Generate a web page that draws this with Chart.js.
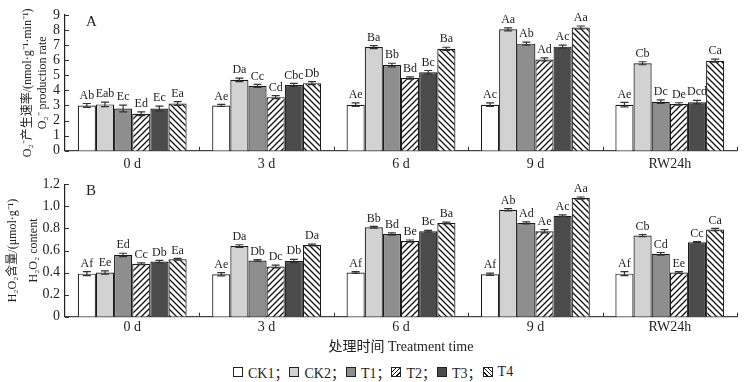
<!DOCTYPE html>
<html>
<head>
<meta charset="utf-8">
<script src="https://cdn.jsdelivr.net/npm/chart.js@4.4.1/dist/chart.umd.min.js"></script>
<style>
  html,body{margin:0;padding:0;background:#fff;}
  #page{position:relative;width:756px;height:382px;overflow:hidden;background:#fff;}
  canvas{position:absolute;left:0;}
  #legend{position:absolute;top:362px;left:233px;display:flex;align-items:center;
    font-family:'Liberation Serif','Noto Sans CJK SC',serif;font-size:14px;color:#222;white-space:nowrap;}
  .item{display:flex;align-items:center;margin-right:1px;}
  .box{width:10px;height:10px;border:1px solid #222;margin-right:5px;box-sizing:border-box;}
</style>
</head>
<body>
<div id="page">
  <canvas id="c1" width="756" height="170" style="top:0px"></canvas>
  <canvas id="c2" width="756" height="190" style="top:170px"></canvas>
  <div id="legend"></div>
</div>
<script>
// ---------------- data ----------------
const categories = ['0 d', '3 d', '6 d', '9 d', 'RW24h'];
const seriesNames = ['CK1', 'CK2', 'T1', 'T2', 'T3', 'T4'];

// Panel A: O2- production rate (nmol g-1 min-1), one row per series
const o2Values = [
  [3.00, 3.00, 3.05, 3.05, 3.05],
  [3.07, 4.70, 6.87, 8.05, 5.80],
  [2.80, 4.30, 5.68, 7.10, 3.25],
  [2.45, 3.55, 4.82, 6.05, 3.10],
  [2.80, 4.36, 5.20, 6.90, 3.22],
  [3.13, 4.48, 6.76, 8.17, 5.97]
];
const o2Errors = [
  [0.13, 0.07, 0.12, 0.12, 0.15],
  [0.15, 0.12, 0.10, 0.10, 0.10],
  [0.22, 0.10, 0.12, 0.10, 0.12],
  [0.12, 0.10, 0.08, 0.10, 0.08],
  [0.16, 0.10, 0.12, 0.10, 0.12],
  [0.12, 0.10, 0.10, 0.10, 0.10]
];
const o2Letters = [
  ['Ab', 'Ae', 'Ae', 'Ac', 'Ae'],
  ['Eab', 'Da', 'Ba', 'Aa', 'Cb'],
  ['Ec', 'Cc', 'Bb', 'Ab', 'Dc'],
  ['Ed', 'Cd', 'Bd', 'Ad', 'De'],
  ['Ec', 'Cbc', 'Bc', 'Ac', 'Dcd'],
  ['Ea', 'Db', 'Ba', 'Aa', 'Ca']
];

// Panel B: H2O2 content (umol g-1)
const h2o2Values = [
  [0.390, 0.385, 0.400, 0.385, 0.390],
  [0.400, 0.640, 0.810, 0.970, 0.735],
  [0.560, 0.510, 0.750, 0.850, 0.570],
  [0.480, 0.455, 0.685, 0.775, 0.400],
  [0.500, 0.505, 0.775, 0.915, 0.675],
  [0.520, 0.650, 0.850, 1.075, 0.790]
];
const h2o2Errors = [
  [0.018, 0.015, 0.008, 0.010, 0.018],
  [0.015, 0.012, 0.008, 0.010, 0.010],
  [0.015, 0.008, 0.010, 0.010, 0.012],
  [0.008, 0.012, 0.010, 0.015, 0.008],
  [0.010, 0.015, 0.008, 0.008, 0.005],
  [0.008, 0.008, 0.008, 0.010, 0.010]
];
const h2o2Letters = [
  ['Af', 'Ae', 'Af', 'Af', 'Af'],
  ['Ee', 'Da', 'Bb', 'Ab', 'Cb'],
  ['Ed', 'Db', 'Bd', 'Ad', 'Cd'],
  ['Cc', 'Dc', 'Be', 'Ae', 'Ee'],
  ['Db', 'Db', 'Bc', 'Ac', 'Cc'],
  ['Ea', 'Da', 'Ba', 'Aa', 'Ca']
];

const o2Ticks = ['0', '1', '2', '3', '4', '5', '6', '7', '8', '9'];
const h2o2Ticks = ['0', '0.2', '0.4', '0.6', '0.8', '1.0', '1.2'];

// ---------------- styling ----------------
const SERIF = "'Liberation Serif','Noto Sans CJK SC',serif";
const INK = '#222';

function hatch(dir) {
  const s = 6;
  const c = document.createElement('canvas');
  c.width = s; c.height = s;
  const x = c.getContext('2d');
  x.fillStyle = '#fff'; x.fillRect(0, 0, s, s);
  x.strokeStyle = '#111'; x.lineWidth = 1.3;
  x.beginPath();
  if (dir === '/') {
    x.moveTo(0, s); x.lineTo(s, 0);
    x.moveTo(-1, 1); x.lineTo(1, -1);
    x.moveTo(s - 1, s + 1); x.lineTo(s + 1, s - 1);
  } else {
    x.moveTo(0, 0); x.lineTo(s, s);
    x.moveTo(s - 1, -1); x.lineTo(s + 1, 1);
    x.moveTo(-1, s - 1); x.lineTo(1, s + 1);
  }
  x.stroke();
  return x.createPattern(c, 'repeat');
}
const fills = ['#ffffff', '#d2d2d2', '#8e8e8e', hatch('/'), '#4b4b4b', hatch('\\')];

const errPlugin = {
  id: 'errs',
  afterDatasetsDraw(chart) {
    const { ctx } = chart;
    const ys = chart.scales.y;
    const errs = chart.options.plugins.errs.errors;
    const letters = chart.options.plugins.errs.letters;
    ctx.save();
    chart.data.datasets.forEach((ds, di) => {
      const meta = chart.getDatasetMeta(di);
      meta.data.forEach((el, i) => {
        const v = ds.data[i], e = errs[di][i];
        const yT = ys.getPixelForValue(v + e), yB = ys.getPixelForValue(v - e);
        const x = el.x;
        ctx.strokeStyle = '#333'; ctx.lineWidth = 1.2;
        ctx.beginPath();
        ctx.moveTo(x, yT); ctx.lineTo(x, yB);
        ctx.moveTo(x - 4, yT); ctx.lineTo(x + 4, yT);
        ctx.moveTo(x - 4, yB); ctx.lineTo(x + 4, yB);
        ctx.stroke();
        ctx.fillStyle = INK;
        ctx.font = '12px ' + SERIF;
        ctx.textAlign = 'center'; ctx.textBaseline = 'bottom';
        ctx.fillText(letters[di][i], x, yT - 2);
      });
    });
    ctx.restore();
  },
  afterDraw(chart) {
    const { ctx } = chart;
    const xs = chart.scales.x, ys = chart.scales.y;
    ctx.save();
    ctx.strokeStyle = '#333'; ctx.lineWidth = 1;
    ctx.beginPath();
    ys.ticks.forEach(t => {
      const y = Math.round(ys.getPixelForValue(t.value)) + 0.5;
      ctx.moveTo(ys.right, y); ctx.lineTo(ys.right + 4, y);
    });
    for (let i = 0; i < categories.length; i++) {
      const x = Math.round(xs.getPixelForValue(i + 0.5)) + 0.5;
      ctx.moveTo(x, xs.top); ctx.lineTo(x, xs.top - 4);
    }
    ctx.stroke();
    ctx.fillStyle = INK;
    ctx.font = '15px ' + SERIF;
    ctx.textAlign = 'left'; ctx.textBaseline = 'middle';
    ctx.fillText(chart.options.plugins.errs.panel, xs.left + 21, chart.chartArea.top + 7);
    ctx.restore();
  }
};

function makeChart(id, values, errors, letters, yCfg, xTitle, padTop, xHeight, tickPad) {
  return new Chart(document.getElementById(id), {
    type: 'bar',
    data: {
      labels: categories,
      datasets: seriesNames.map((n, i) => ({
        label: n,
        data: values[i],
        backgroundColor: fills[i],
        borderColor: '#1a1a1a',
        borderWidth: 1.2,
        categoryPercentage: 0.81,
        barPercentage: 1.0
      }))
    },
    options: {
      responsive: false,
      animation: false,
      devicePixelRatio: 1,
      layout: { padding: { top: padTop, right: 19, bottom: 0, left: 0 } },
      plugins: {
        legend: { display: false },
        tooltip: { enabled: false },
        errs: { errors, letters, panel: yCfg.panel }
      },
      scales: {
        x: {
          grid: { display: false, drawTicks: false },
          border: { display: true, color: '#444', width: 1.2 },
          ticks: { color: INK, font: { family: SERIF, size: 14 }, padding: tickPad },
          title: xTitle ? { display: true, text: xTitle, color: INK, font: { family: SERIF, size: 14 }, padding: { top: 0, bottom: 4 } } : { display: false },
          afterFit(s) { s.height = xHeight; }
        },
        y: {
          min: yCfg.min, max: yCfg.max,
          grid: { display: false, drawTicks: false },
          border: { display: true, color: '#222', width: 1.2 },
          ticks: {
            stepSize: yCfg.step, color: INK, padding: 5, autoSkip: false,
            font: { family: SERIF, size: 14 },
            callback: yCfg.cb
          },
          title: {
            display: true, text: yCfg.title, color: INK,
            font: { family: SERIF, size: 12, lineHeight: yCfg.titleLH },
            padding: { top: yCfg.titlePad, bottom: 0 }
          },
          afterFit(s) { s.width = 65; }
        }
      }
    },
    plugins: [errPlugin]
  });
}

makeChart('c1', o2Values, o2Errors, o2Letters, {
  min: 0, max: 9, step: 1, panel: 'A', titleLH: '15px', titlePad: 20.5,
  cb: (v, i) => o2Ticks[i],
  title: ['O₂⁻产生速率/(nmol·g⁻¹·min⁻¹)', 'O₂⁻ production rate']
}, null, 15, 19.3, 5);

makeChart('c2', h2o2Values, h2o2Errors, h2o2Letters, {
  min: 0, max: 1.2, step: 0.2, panel: 'B', titleLH: '21px', titlePad: 2.5,
  cb: (v, i) => h2o2Ticks[i],
  title: ['H₂O₂含量/(μmol·g⁻¹)', 'H₂O₂ content']
}, '处理时间 Treatment time', 14.3, 43.3, 2);

// ---------------- legend ----------------
const legendCss = ['#ffffff', '#d2d2d2', '#8e8e8e',
  'repeating-linear-gradient(-45deg,#fff 0 2px,#111 2px 3px)', '#4b4b4b',
  'repeating-linear-gradient(45deg,#fff 0 2px,#111 2px 3px)'];
const lg = document.getElementById('legend');
seriesNames.forEach((n, i) => {
  const it = document.createElement('div'); it.className = 'item';
  const b = document.createElement('div'); b.className = 'box'; b.style.background = legendCss[i];
  const t = document.createElement('span'); t.textContent = n + (i < seriesNames.length - 1 ? '；' : '');
  it.appendChild(b); it.appendChild(t); lg.appendChild(it);
});
</script>
</body>
</html>
